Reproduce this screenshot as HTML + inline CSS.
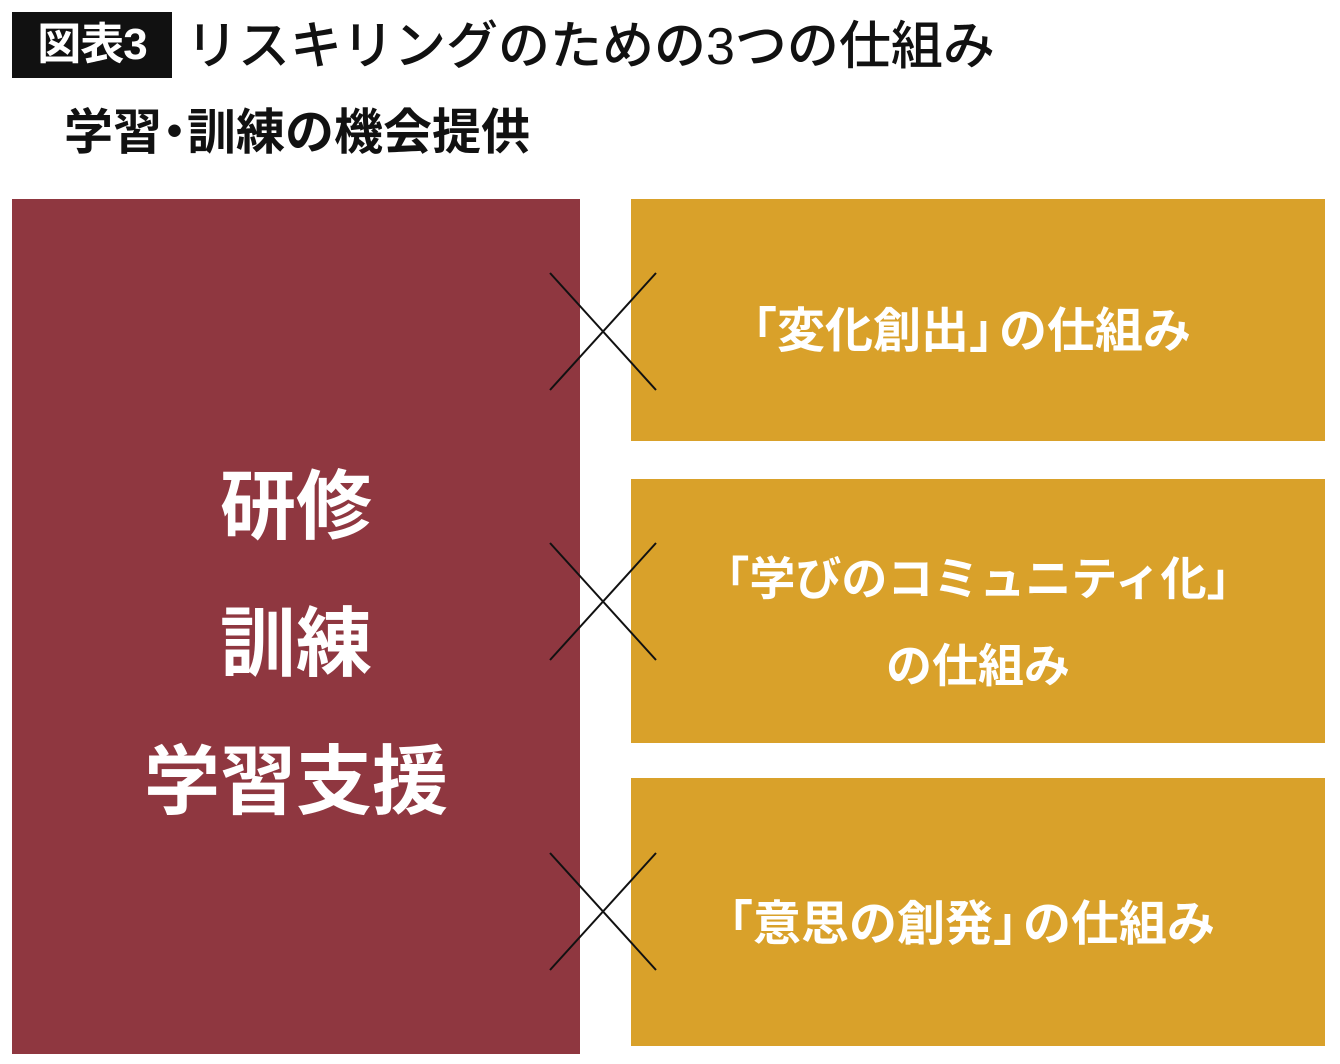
<!DOCTYPE html>
<html><head><meta charset="utf-8"><style>
body{margin:0;width:1340px;height:1064px;background:#fff;position:relative;overflow:hidden;font-family:"Liberation Sans","Noto Sans CJK JP",sans-serif}
.a{position:absolute}
.t{color:#fff;font-weight:bold;text-align:center;white-space:nowrap}
</style></head><body>
<div class="a" style="left:12px;top:12px;width:160px;height:66px;background:#111"></div>
<div class="a" style="left:12px;top:12px;width:160px;height:66px;line-height:66px;color:#fff;font-size:44px;font-weight:bold;text-align:center;letter-spacing:-1px">図表3</div>
<div class="a" style="left:186px;top:14px;height:66px;line-height:66px;font-size:52px;color:#111;font-weight:500;white-space:nowrap">リスキリングのための3つの仕組み</div>
<div class="a" style="left:64px;top:105px;line-height:56px;font-size:49px;color:#111;font-weight:bold;white-space:nowrap">学習<span style="margin:0 -12px">・</span>訓練の機会提供</div>
<div class="a" style="left:12px;top:199px;width:568px;height:855px;background:#8f3740"></div>
<div class="a" style="left:631px;top:199px;width:694px;height:242px;background:#d9a12a"></div>
<div class="a" style="left:631px;top:479px;width:694px;height:264px;background:#d9a12a"></div>
<div class="a" style="left:631px;top:778px;width:694px;height:268px;background:#d9a12a"></div>
<div class="a t" style="left:12px;width:568px;top:466px;font-size:76px;line-height:84px">研修</div>
<div class="a t" style="left:12px;width:568px;top:603px;font-size:76px;line-height:84px">訓練</div>
<div class="a t" style="left:12px;width:568px;top:741px;font-size:76px;line-height:84px">学習支援</div>
<div class="a t" style="left:613px;width:694px;top:302px;font-size:48px;line-height:60px">「変化創出<span style="margin-right:-18px">」</span>の仕組み</div>
<div class="a t" style="left:631px;width:694px;top:536px;font-size:46px;line-height:87px">「学びのコミュニティ化」<br>の仕組み</div>
<div class="a t" style="left:613px;width:694px;top:895px;font-size:48px;line-height:60px">「意思の創発<span style="margin-right:-18px">」</span>の仕組み</div>
<svg class="a" style="left:0;top:0" width="1340" height="1064">
<g stroke="#111" stroke-width="2">
<line x1="550" y1="273" x2="656" y2="390"/><line x1="550" y1="390" x2="656" y2="273"/>
<line x1="550" y1="543" x2="656" y2="660"/><line x1="550" y1="660" x2="656" y2="543"/>
<line x1="550" y1="853" x2="656" y2="970"/><line x1="550" y1="970" x2="656" y2="853"/>
</g></svg>
</body></html>
